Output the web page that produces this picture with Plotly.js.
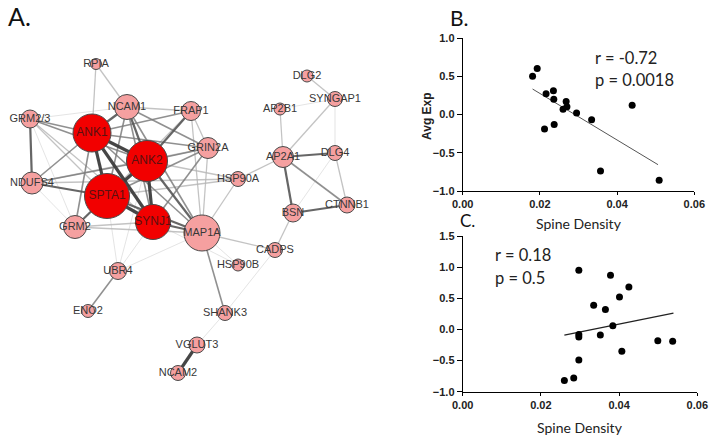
<!DOCTYPE html>
<html>
<head>
<meta charset="utf-8">
<script src="https://cdn.plot.ly/plotly-3.0.1.min.js"></script>
<style>
html,body{margin:0;padding:0;background:#fff;}
#chart{width:714px;height:441px;}
</style>
</head>
<body>
<div id="chart"></div>
<script>
// ---------- Panel A: network ----------
const nodeNames = ["RPIA","NCAM1","FRAP1","GRM2/3","ANK1","ANK2","GRIN2A","HSP90A","NDUFS4","SPTA1",
  "SYNJ1","GRM2","MAP1A","UBR4","ENO2","HSP90B","CADPS","SHANK3","VGLUT3","NCAM2",
  "AP2B1","DLG2","SYNGAP1","AP2A1","DLG4","BSN","CTNNB1"];
const nodeX = [96,127,191,30,92,147,208,238,32,107,
  153,75,202,118,88,238,275,225,197,178,
  280,307,335,283,335,293,347];
const nodeY = [64,107,111,119,133,161,148,179,183,196,
  222,227,233,271,311,265,250,313,345,373,
  109,76,99,157,153,213,205];
const nodeSize = [11,25,19,18,38,41,21,15,22,45,
  35,23,36,17,13,12,15,15,16,15,
  12,12,15,21,15,18,16];
const nodeHub = [0,0,0,0,1,1,0,0,0,1,
  1,0,0,0,0,0,0,0,0,0,
  0,0,0,0,0,0,0];

const edgeFrom = ["RPIA","RPIA","GRM2/3","GRM2/3","GRM2/3","GRM2/3","GRM2/3","GRM2/3","GRM2/3",
  "NCAM1","NCAM1","NCAM1","NCAM1","NCAM1","NCAM1","NCAM1",
  "FRAP1","FRAP1","FRAP1","FRAP1","FRAP1",
  "ANK1","ANK1","ANK1","ANK1","ANK1","ANK1","ANK1",
  "ANK2","ANK2","ANK2","ANK2","ANK2","ANK2",
  "SPTA1","SPTA1","SPTA1","SPTA1","SPTA1","SPTA1",
  "SYNJ1","SYNJ1","SYNJ1","GRIN2A","GRIN2A","HSP90A","NDUFS4","GRM2","NDUFS4",
  "MAP1A","HSP90B","UBR4","UBR4","UBR4","UBR4","UBR4",
  "MAP1A","MAP1A","CADPS","CADPS","SHANK3","VGLUT3",
  "AP2A1","AP2A1","AP2A1","AP2A1","AP2A1","AP2A1","AP2B1","DLG2","SYNGAP1","DLG4","DLG4","BSN"];
const edgeTo = ["ANK1","NCAM1","NCAM1","ANK1","NDUFS4","ANK2","SPTA1","SYNJ1","GRM2",
  "ANK1","ANK2","SPTA1","SYNJ1","FRAP1","GRIN2A","MAP1A",
  "ANK1","ANK2","GRIN2A","SPTA1","MAP1A",
  "ANK2","SPTA1","SYNJ1","NDUFS4","GRM2","GRIN2A","MAP1A",
  "SPTA1","SYNJ1","MAP1A","GRIN2A","NDUFS4","HSP90A",
  "SYNJ1","NDUFS4","GRM2","MAP1A","GRIN2A","HSP90A",
  "MAP1A","GRIN2A","GRM2","MAP1A","NDUFS4","MAP1A","GRM2","MAP1A","HSP90A",
  "HSP90B","SYNJ1","SPTA1","SYNJ1","ANK2","MAP1A","ENO2",
  "CADPS","SHANK3","SHANK3","BSN","VGLUT3","NCAM2",
  "HSP90A","AP2B1","SYNGAP1","DLG4","BSN","CTNNB1","SYNGAP1","SYNGAP1","DLG4","CTNNB1","BSN","CTNNB1"];
const edgeWeight = [2,2,1,3,4,3,2,2,1,
  4,4,3,3,2,3,3,
  3,4,2,2,2,
  5,5,5,3,3,3,3,
  5,5,4,3,3,2,
  5,4,4,4,3,2,
  4,3,2,2,2,2,1,2,2,
  1,1,1,1,1,1,3,
  2,3,1,2,1,5,
  2,2,2,4,4,3,1,2,1,2,1,4];

// ---------- Panel B ----------
const bX = [0.0181,0.0193,0.0216,0.0235,0.0236,0.0268,0.0270,0.0260,0.0295,0.0212,0.0237,0.0334,0.0439,0.0357,0.0509];
const bY = [0.50,0.60,0.27,0.31,0.20,0.17,0.10,0.07,0.02,-0.19,-0.13,-0.07,0.12,-0.74,-0.86];
const bFitX = [0.0181,0.0506];
const bFitY = [0.333,-0.656];

// ---------- Panel C ----------
const cX = [0.0260,0.0284,0.0297,0.0297,0.0297,0.0297,0.0335,0.0352,0.0365,0.0378,0.0384,0.0401,0.0407,0.0425,0.0499,0.0537];
const cY = [-0.82,-0.78,-0.49,-0.12,-0.08,0.95,0.39,-0.09,0.32,0.87,0.06,0.52,-0.35,0.68,-0.18,-0.19];
const cFitX = [0.0260,0.0539];
const cFitY = [-0.091,0.262];

// ---------- build ----------
const idx = {};
nodeNames.forEach((n,i)=>idx[n]=i);
const edgeStyles = {
  1:{color:'rgba(205,205,205,0.55)',width:1},
  2:{color:'rgba(180,180,180,0.8)',width:1.3},
  3:{color:'rgba(125,125,125,0.85)',width:1.6},
  4:{color:'rgba(85,85,85,0.9)',width:2.2},
  5:{color:'rgba(60,60,60,0.95)',width:3.2}
};
const traces = [];
[1,2,3,4,5].forEach(w=>{
  const xs=[], ys=[];
  edgeFrom.forEach((f,k)=>{
    if(edgeWeight[k]!==w) return;
    const a=idx[f], b=idx[edgeTo[k]];
    xs.push(nodeX[a],nodeX[b],null);
    ys.push(nodeY[a],nodeY[b],null);
  });
  traces.push({type:'scatter',mode:'lines',x:xs,y:ys,xaxis:'x',yaxis:'y',
    line:edgeStyles[w],hoverinfo:'skip',showlegend:false,cliponaxis:false});
});
traces.push({type:'scatter',mode:'markers+text',x:nodeX,y:nodeY,text:nodeNames,
  xaxis:'x',yaxis:'y',textposition:'middle center',cliponaxis:false,showlegend:false,
  marker:{size:nodeSize,color:nodeHub.map(h=>h?'#f20000':'#f5a0a0'),
    line:{color:'#4a4a4a',width:1},opacity:1},
  textfont:{family:'Liberation Sans, Arial, sans-serif',size:nodeHub.map(h=>h?12:11),
    color:nodeHub.map(h=>h?'#5a1010':'#383838')}});

traces.push({type:'scatter',mode:'lines',x:bFitX,y:bFitY,xaxis:'x2',yaxis:'y2',
  line:{color:'#555',width:1},showlegend:false});
traces.push({type:'scatter',mode:'markers',x:bX,y:bY,xaxis:'x2',yaxis:'y2',
  marker:{size:7,color:'#000'},showlegend:false,cliponaxis:false});
traces.push({type:'scatter',mode:'lines',x:cFitX,y:cFitY,xaxis:'x3',yaxis:'y3',
  line:{color:'#222',width:1.3},showlegend:false});
traces.push({type:'scatter',mode:'markers',x:cX,y:cY,xaxis:'x3',yaxis:'y3',
  marker:{size:7,color:'#000'},showlegend:false,cliponaxis:false});

const W=714,H=441;
const tickFont = {family:'Liberation Sans, Arial, sans-serif',size:11,color:'#222',weight:'bold'};
function sciAxis(domain, anchor){
  return {domain:domain,anchor:anchor,showline:true,linecolor:'#000',linewidth:1,
    ticks:'outside',ticklen:4,tickwidth:1,tickcolor:'#000',showgrid:false,zeroline:false,
    tickfont:tickFont,fixedrange:true,automargin:false};
}
const xa2 = Object.assign(sciAxis([462.7/W,694.3/W],'y2'),{range:[0,0.06],dtick:0.02,tickformat:'.2f',ticklen:3});
const ya2 = Object.assign(sciAxis([(H-191)/H,(H-38)/H],'x2'),{range:[-1,1],dtick:0.5,tickformat:'.1f',ticklen:5});
const xa3 = Object.assign(sciAxis([462.7/W,697.3/W],'y3'),{range:[0,0.06],dtick:0.02,tickformat:'.2f',ticklen:3});
const ya3 = Object.assign(sciAxis([(H-391.7)/H,(H-236)/H],'x3'),{range:[-1,1.5],dtick:0.5,tickformat:'.1f',ticklen:5});

const labFont = {family:'Lato, Carlito, sans-serif',size:16.5,color:'#222'};
function ann(text,x,y,font,extra){
  return Object.assign({text:text,xref:'paper',yref:'paper',x:x/W,y:1-y/H,
    xanchor:'left',yanchor:'middle',showarrow:false,font:font},extra||{});
}
const annotations = [
  ann('A.',6,16,{family:'Lato, sans-serif',size:25,color:'#111'}),
  ann('B.',448,17,{family:'Lato, sans-serif',size:21,color:'#111'}),
  ann('C.',459,221,{family:'Lato, sans-serif',size:17,color:'#111'},{borderpad:0}),
  ann('r = -0.72',593,58,labFont),
  ann('p = 0.0018',593,80,labFont),
  ann('r = 0.18',493,255,labFont),
  ann('p = 0.5',493,278,labFont),
  ann('Spine Density',579,223,{family:'Lato, sans-serif',size:14,color:'#222'},{xanchor:'center'}),
  ann('Spine Density',580,427,{family:'Lato, sans-serif',size:14,color:'#222'},{xanchor:'center'}),
  ann('Avg Exp',427,116,{family:'Liberation Sans, Arial, sans-serif',size:12,color:'#222',weight:'bold'},{xanchor:'center',textangle:-90})
];

const layout = {
  width:W,height:H,margin:{l:0,r:0,t:0,b:0},paper_bgcolor:'#fff',plot_bgcolor:'rgba(0,0,0,0)',
  showlegend:false,
  xaxis:{domain:[0,380/W],range:[0,380],visible:false,fixedrange:true},
  yaxis:{domain:[0,1],range:[441,0],visible:false,fixedrange:true},
  xaxis2:xa2,yaxis2:ya2,xaxis3:xa3,yaxis3:ya3,
  annotations:annotations
};
Plotly.newPlot('chart',traces,layout,{staticPlot:true,displayModeBar:false});
</script>
</body>
</html>
